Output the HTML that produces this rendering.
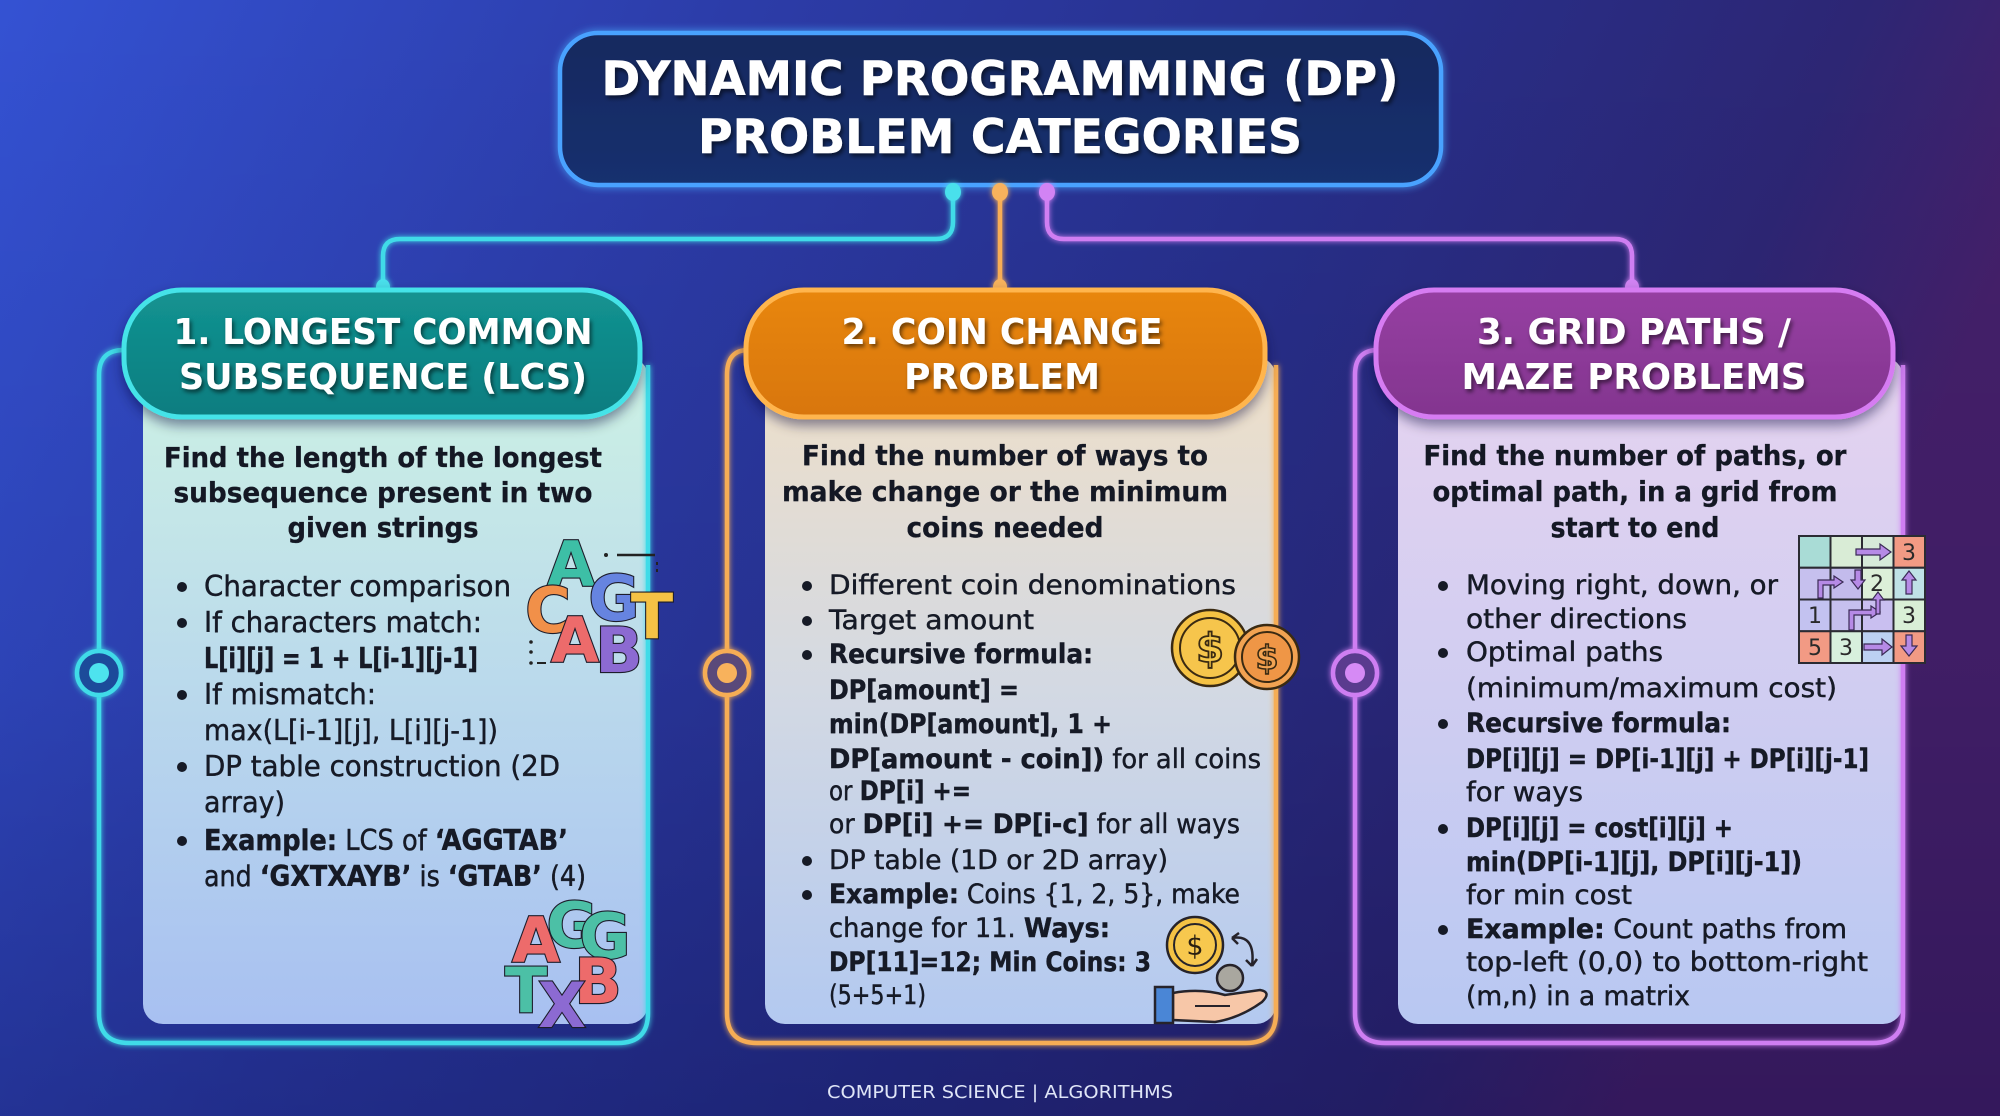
<!DOCTYPE html>
<html>
<head>
<meta charset="utf-8">
<style>
  html,body{margin:0;padding:0;background:#2a3396;}
  svg{display:block;}
  .tt{font-family:"DejaVu Sans","Liberation Sans",sans-serif;font-weight:bold;fill:#ffffff;}
  .hd{font-family:"DejaVu Sans","Liberation Sans",sans-serif;font-weight:bold;font-size:27.5px;fill:#141824;stroke:#141824;stroke-width:0.3;}
  .bl{font-family:"DejaVu Sans","Liberation Sans",sans-serif;font-size:28.5px;fill:#161a26;stroke:#161a26;stroke-width:0.45;}
  .bc{font-family:"DejaVu Sans","Liberation Sans",sans-serif;font-size:26.5px;fill:#161a26;stroke:#161a26;stroke-width:0.45;}
  .bd{font-weight:bold;}
  .lt{font-family:"DejaVu Sans","Liberation Sans",sans-serif;font-weight:bold;stroke:#1d1d2b;stroke-width:2.2;paint-order:stroke;text-anchor:middle;}
  .gn{font-family:"DejaVu Sans","Liberation Sans",sans-serif;font-size:22px;fill:#2a2a2a;text-anchor:middle;}
</style>
</head>
<body>
<svg width="2000" height="1116" viewBox="0 0 2000 1116" xmlns="http://www.w3.org/2000/svg">
  <defs>
    <linearGradient id="bg" x1="0" y1="0" x2="1" y2="0.25">
      <stop offset="0" stop-color="#3452d3"/>
      <stop offset="0.35" stop-color="#2c3ca8"/>
      <stop offset="0.65" stop-color="#272f8a"/>
      <stop offset="0.88" stop-color="#2d2674"/>
      <stop offset="1" stop-color="#45206a"/>
    </linearGradient>
    <linearGradient id="bgv" x1="0" y1="0" x2="0" y2="1">
      <stop offset="0" stop-color="#000030" stop-opacity="0"/>
      <stop offset="0.6" stop-color="#000030" stop-opacity="0.08"/>
      <stop offset="1" stop-color="#000030" stop-opacity="0.25"/>
    </linearGradient>
    <linearGradient id="titleFill" x1="0" y1="0" x2="0" y2="1">
      <stop offset="0" stop-color="#13295f"/>
      <stop offset="1" stop-color="#15306f"/>
    </linearGradient>
    <linearGradient id="cL" x1="0" y1="0" x2="0" y2="1">
      <stop offset="0" stop-color="#cdf2e4"/>
      <stop offset="0.5" stop-color="#bad9ec"/>
      <stop offset="1" stop-color="#a8c0f1"/>
    </linearGradient>
    <linearGradient id="cC" x1="0" y1="0" x2="0" y2="1">
      <stop offset="0" stop-color="#efdfc8"/>
      <stop offset="0.5" stop-color="#d3d9e3"/>
      <stop offset="1" stop-color="#b3c9f0"/>
    </linearGradient>
    <linearGradient id="cG" x1="0" y1="0" x2="0" y2="1">
      <stop offset="0" stop-color="#e6d3f0"/>
      <stop offset="0.5" stop-color="#d0cdf1"/>
      <stop offset="1" stop-color="#b8c8f2"/>
    </linearGradient>
    <linearGradient id="pL" x1="0" y1="0" x2="0" y2="1">
      <stop offset="0" stop-color="#139391"/>
      <stop offset="1" stop-color="#0b7d80"/>
    </linearGradient>
    <linearGradient id="pC" x1="0" y1="0" x2="0" y2="1">
      <stop offset="0" stop-color="#e8860f"/>
      <stop offset="1" stop-color="#d8760c"/>
    </linearGradient>
    <linearGradient id="pG" x1="0" y1="0" x2="0" y2="1">
      <stop offset="0" stop-color="#963fa2"/>
      <stop offset="1" stop-color="#83358f"/>
    </linearGradient>
    <filter id="glow" x="-10%" y="-10%" width="120%" height="120%">
      <feGaussianBlur stdDeviation="4" result="b"/>
      <feMerge><feMergeNode in="b"/><feMergeNode in="SourceGraphic"/></feMerge>
    </filter>
    <filter id="glowS" x="-50%" y="-50%" width="200%" height="200%">
      <feGaussianBlur stdDeviation="3" result="b"/>
      <feMerge><feMergeNode in="b"/><feMergeNode in="SourceGraphic"/></feMerge>
    </filter>
    <filter id="ts" x="-10%" y="-30%" width="120%" height="160%">
      <feDropShadow dx="2" dy="3" stdDeviation="2" flood-color="#000" flood-opacity="0.55"/>
    </filter>
    <filter id="ps" x="-10%" y="-20%" width="120%" height="150%">
      <feDropShadow dx="0" dy="6" stdDeviation="6" flood-color="#0a1030" flood-opacity="0.45"/>
    </filter>
  </defs>

  <!-- background -->
  <rect width="2000" height="1116" fill="url(#bg)"/>
  <rect width="2000" height="1116" fill="url(#bgv)"/>

  <!-- connectors -->
  <g fill="none" stroke-width="4.5" stroke-linecap="round" filter="url(#glowS)">
    <path d="M953 192 V222 Q953 239 936 239 H400 Q383 239 383 256 V287" stroke="#3fdbe8"/>
    <path d="M1000 192 V287" stroke="#f6ad55"/>
    <path d="M1047 192 V222 Q1047 239 1064 239 H1615 Q1632 239 1632 256 V287" stroke="#cf7ef2"/>
  </g>

  <!-- title box -->
  <rect x="560" y="33" width="881" height="152" rx="38" fill="url(#titleFill)" stroke="#4aa2ff" stroke-width="4.5" filter="url(#glow)"/>
  <g filter="url(#ts)">
    <text class="tt" x="1000" y="95" font-size="47" text-anchor="middle" textLength="797" lengthAdjust="spacingAndGlyphs" stroke="#fff" stroke-width="0.6">DYNAMIC PROGRAMMING (DP)</text>
    <text class="tt" x="1000" y="153" font-size="47" text-anchor="middle" textLength="604" lengthAdjust="spacingAndGlyphs" stroke="#fff" stroke-width="0.6">PROBLEM CATEGORIES</text>
  </g>

  <!-- connector dots -->
  <g filter="url(#glowS)">
    <ellipse cx="953" cy="192" rx="8" ry="9" fill="#48e0ec"/>
    <ellipse cx="1000" cy="192" rx="8" ry="9" fill="#f8b25c"/>
    <ellipse cx="1047" cy="192" rx="8" ry="9" fill="#d283f4"/>
    <ellipse cx="383" cy="287" rx="7" ry="8" fill="#48e0ec"/>
    <ellipse cx="1000" cy="287" rx="7" ry="8" fill="#f8b25c"/>
    <ellipse cx="1632" cy="287" rx="7" ry="8" fill="#d283f4"/>
  </g>

  <!-- ============ CARD 1: LCS ============ -->
  <rect x="143" y="357" width="505" height="667" rx="20" fill="url(#cL)"/>
  <path d="M124 350 Q99 350 99 375 V1013 Q99 1043 129 1043 H618 Q648 1043 648 1013 V365" fill="none" stroke="#3fdbe8" stroke-width="4.5" filter="url(#glowS)"/>
  <g filter="url(#glowS)">
    <circle cx="99" cy="673" r="22" fill="#1d4c9a" stroke="#3fdbe8" stroke-width="4.5"/>
    <circle cx="99" cy="673" r="10" fill="#4ee3ee"/>
  </g>
  <rect x="124" y="290" width="516" height="127" rx="58" fill="url(#pL)" stroke="#45e3e8" stroke-width="5" filter="url(#ps)"/>
  <g filter="url(#ts)">
    <text class="tt" x="383" y="344" font-size="36" text-anchor="middle" textLength="419" lengthAdjust="spacingAndGlyphs">1. LONGEST COMMON</text>
    <text class="tt" x="383" y="389" font-size="36" text-anchor="middle" textLength="408" lengthAdjust="spacingAndGlyphs">SUBSEQUENCE (LCS)</text>
  </g>
  <text class="hd" x="383" y="467" text-anchor="middle" textLength="438" lengthAdjust="spacingAndGlyphs">Find the length of the longest</text>
  <text class="hd" x="383" y="502" text-anchor="middle" textLength="419" lengthAdjust="spacingAndGlyphs">subsequence present in two</text>
  <text class="hd" x="383" y="537" text-anchor="middle" textLength="191" lengthAdjust="spacingAndGlyphs">given strings</text>

  <g fill="#161a26">
    <circle cx="182" cy="587" r="5"/>
    <circle cx="182" cy="623" r="5"/>
    <circle cx="182" cy="695" r="5"/>
    <circle cx="182" cy="767" r="5"/>
    <circle cx="182" cy="841" r="5"/>
  </g>
  <text class="bl" x="204" y="596" textLength="307" lengthAdjust="spacingAndGlyphs">Character comparison</text>
  <text class="bl" x="204" y="632" textLength="278" lengthAdjust="spacingAndGlyphs">If characters match:</text>
  <text class="bl bd" x="204" y="668" textLength="274" lengthAdjust="spacingAndGlyphs">L[i][j] = 1 + L[i-1][j-1]</text>
  <text class="bl" x="204" y="704" textLength="172" lengthAdjust="spacingAndGlyphs">If mismatch:</text>
  <text class="bl" x="204" y="740" textLength="294" lengthAdjust="spacingAndGlyphs">max(L[i-1][j], L[i][j-1])</text>
  <text class="bl" x="204" y="776" textLength="356" lengthAdjust="spacingAndGlyphs">DP table construction (2D</text>
  <text class="bl" x="204" y="812" textLength="81" lengthAdjust="spacingAndGlyphs">array)</text>
  <text class="bl" x="204" y="850" textLength="364" lengthAdjust="spacingAndGlyphs"><tspan font-weight="bold">Example:</tspan> LCS of <tspan font-weight="bold">‘AGGTAB’</tspan></text>
  <text class="bl" x="204" y="886" textLength="382" lengthAdjust="spacingAndGlyphs">and <tspan font-weight="bold">‘GXTXAYB’</tspan> is <tspan font-weight="bold">‘GTAB’</tspan> (4)</text>

  <!-- LCS top icon -->
  <g font-size="62">
    <circle cx="606" cy="555" r="2" fill="#222"/>
    <line x1="617" y1="555" x2="655" y2="555" stroke="#222" stroke-width="2.5"/>
    <line x1="657" y1="562" x2="657" y2="576" stroke="#222" stroke-width="2" stroke-dasharray="3 4"/>
    <circle cx="531" cy="642" r="1.8" fill="#222"/>
    <circle cx="531" cy="652" r="1.8" fill="#222"/>
    <circle cx="531" cy="663" r="1.8" fill="#222"/>
    <line x1="537" y1="663" x2="546" y2="663" stroke="#222" stroke-width="2"/>
    <text class="lt" x="571" y="586" fill="#3dbfa6">A</text>
    <text class="lt" x="548" y="632" fill="#f19049">C</text>
    <text class="lt" x="614" y="620" fill="#6684e0">G</text>
    <text class="lt" x="652" y="638" fill="#f5c245">T</text>
    <text class="lt" x="575" y="662" fill="#ed6b6b">A</text>
    <text class="lt" x="619" y="672" fill="#8c6ad2">B</text>
  </g>
  <!-- LCS bottom icon -->
  <g font-size="62">
    <text class="lt" x="572" y="947" fill="#4cc0a6">G</text>
    <text class="lt" x="605" y="958" fill="#4cc0a6">G</text>
    <text class="lt" x="536" y="962" fill="#ed6b6b">A</text>
    <text class="lt" x="598" y="1003" fill="#ed6b6b">B</text>
    <text class="lt" x="526" y="1012" fill="#4cc0a6">T</text>
    <text class="lt" x="562" y="1027" fill="#8c6ad2">X</text>
  </g>

  <!-- ============ CARD 2: COIN ============ -->
  <rect x="765" y="357" width="511" height="667" rx="20" fill="url(#cC)"/>
  <path d="M748 350 Q727 350 727 375 V1013 Q727 1043 757 1043 H1246 Q1276 1043 1276 1013 V365" fill="none" stroke="#f6ad55" stroke-width="4.5" filter="url(#glowS)"/>
  <g filter="url(#glowS)">
    <circle cx="727" cy="673" r="22" fill="#5a4a7a" stroke="#f6ad55" stroke-width="4.5"/>
    <circle cx="727" cy="673" r="10" fill="#f8b25c"/>
  </g>
  <rect x="746" y="290" width="519" height="127" rx="58" fill="url(#pC)" stroke="#ffb54e" stroke-width="5" filter="url(#ps)"/>
  <g filter="url(#ts)">
    <text class="tt" x="1002" y="344" font-size="36" text-anchor="middle" textLength="321" lengthAdjust="spacingAndGlyphs">2. COIN CHANGE</text>
    <text class="tt" x="1002" y="389" font-size="36" text-anchor="middle" textLength="196" lengthAdjust="spacingAndGlyphs">PROBLEM</text>
  </g>
  <text class="hd" x="1005" y="465" text-anchor="middle" textLength="406" lengthAdjust="spacingAndGlyphs">Find the number of ways to</text>
  <text class="hd" x="1005" y="501" text-anchor="middle" textLength="446" lengthAdjust="spacingAndGlyphs">make change or the minimum</text>
  <text class="hd" x="1005" y="537" text-anchor="middle" textLength="197" lengthAdjust="spacingAndGlyphs">coins needed</text>

  <g fill="#161a26">
    <circle cx="807" cy="586" r="5"/>
    <circle cx="807" cy="621" r="5"/>
    <circle cx="807" cy="655" r="5"/>
    <circle cx="807" cy="861" r="5"/>
    <circle cx="807" cy="895" r="5"/>
  </g>
  <text class="bc" x="829" y="594" textLength="407" lengthAdjust="spacingAndGlyphs">Different coin denominations</text>
  <text class="bc" x="829" y="629" textLength="205" lengthAdjust="spacingAndGlyphs">Target amount</text>
  <text class="bc bd" x="829" y="663" textLength="264" lengthAdjust="spacingAndGlyphs">Recursive formula:</text>
  <text class="bc bd" x="829" y="699" textLength="190" lengthAdjust="spacingAndGlyphs">DP[amount] =</text>
  <text class="bc bd" x="829" y="733" textLength="283" lengthAdjust="spacingAndGlyphs">min(DP[amount], 1 +</text>
  <text class="bc" x="829" y="768" textLength="432" lengthAdjust="spacingAndGlyphs"><tspan font-weight="bold">DP[amount - coin])</tspan> for all coins</text>
  <text class="bc" x="829" y="800" textLength="142" lengthAdjust="spacingAndGlyphs">or <tspan font-weight="bold">DP[i] +=</tspan></text>
  <text class="bc" x="829" y="833" textLength="411" lengthAdjust="spacingAndGlyphs">or <tspan font-weight="bold">DP[i] += DP[i-c]</tspan> for all ways</text>
  <text class="bc" x="829" y="869" textLength="339" lengthAdjust="spacingAndGlyphs">DP table (1D or 2D array)</text>
  <text class="bc" x="829" y="903" textLength="411" lengthAdjust="spacingAndGlyphs"><tspan font-weight="bold">Example:</tspan> Coins {1, 2, 5}, make</text>
  <text class="bc" x="829" y="937" textLength="281" lengthAdjust="spacingAndGlyphs">change for 11. <tspan font-weight="bold">Ways:</tspan></text>
  <text class="bc bd" x="829" y="971" textLength="322" lengthAdjust="spacingAndGlyphs">DP[11]=12; Min Coins: 3</text>
  <text class="bc" x="829" y="1004" textLength="97" lengthAdjust="spacingAndGlyphs">(5+5+1)</text>

  <!-- coins icon -->
  <g stroke="#3a2a12" stroke-width="2.5">
    <circle cx="1210" cy="648" r="38" fill="#f5c244"/>
    <circle cx="1210" cy="648" r="30" fill="#f6c54c" stroke-width="2"/>
    <circle cx="1267" cy="657" r="32" fill="#f2a352"/>
    <circle cx="1267" cy="657" r="25" fill="#ef9646" stroke-width="2"/>
  </g>
  <text x="1210" y="662" font-family="DejaVu Sans, sans-serif" font-size="40" font-weight="bold" text-anchor="middle" fill="#f6c84a" stroke="#3a2a12" stroke-width="1.8">$</text>
  <text x="1267" y="669" font-family="DejaVu Sans, sans-serif" font-size="33" font-weight="bold" text-anchor="middle" fill="#f2a352" stroke="#3a2a12" stroke-width="1.6">$</text>

  <!-- hand + coin icon -->
  <g stroke="#26232a" stroke-width="2.5">
    <circle cx="1195" cy="945" r="28" fill="#f5c244"/>
    <circle cx="1195" cy="945" r="21" fill="#f7c84e" stroke-width="2"/>
    <circle cx="1230" cy="978" r="13" fill="#a9a79f"/>
    <path d="M1232 938 Q1256 934 1252 966" fill="none"/>
    <path d="M1232 938 L1239 933 M1232 938 L1238 944" fill="none"/>
    <path d="M1252 966 L1246 960 M1252 966 L1257 959" fill="none"/>
    <path d="M1173 993 Q1200 988 1225 995 L1260 990 Q1272 992 1262 1002 Q1240 1018 1215 1022 L1173 1020 Z" fill="#f7c7a8"/>
    <path d="M1195 1006 L1230 1006" fill="none" stroke-width="2"/>
    <rect x="1155" y="987" width="18" height="36" fill="#4a86d6"/>
  </g>
  <text x="1195" y="955" font-family="DejaVu Sans, sans-serif" font-size="27" text-anchor="middle" fill="#2a2012">$</text>

  <!-- ============ CARD 3: GRID ============ -->
  <rect x="1398" y="357" width="505" height="667" rx="20" fill="url(#cG)"/>
  <path d="M1378 350 Q1355 350 1355 375 V1013 Q1355 1043 1385 1043 H1873 Q1903 1043 1903 1013 V365" fill="none" stroke="#cf7ef2" stroke-width="4.5" filter="url(#glowS)"/>
  <g filter="url(#glowS)">
    <circle cx="1355" cy="673" r="22" fill="#5a3a8e" stroke="#cf7ef2" stroke-width="4.5"/>
    <circle cx="1355" cy="673" r="10" fill="#d68af5"/>
  </g>
  <rect x="1376" y="290" width="517" height="127" rx="58" fill="url(#pG)" stroke="#d67bf2" stroke-width="5" filter="url(#ps)"/>
  <g filter="url(#ts)">
    <text class="tt" x="1634" y="344" font-size="36" text-anchor="middle" textLength="314" lengthAdjust="spacingAndGlyphs">3. GRID PATHS /</text>
    <text class="tt" x="1634" y="389" font-size="36" text-anchor="middle" textLength="345" lengthAdjust="spacingAndGlyphs">MAZE PROBLEMS</text>
  </g>
  <text class="hd" x="1635" y="465" text-anchor="middle" textLength="423" lengthAdjust="spacingAndGlyphs">Find the number of paths, or</text>
  <text class="hd" x="1635" y="501" text-anchor="middle" textLength="405" lengthAdjust="spacingAndGlyphs">optimal path, in a grid from</text>
  <text class="hd" x="1635" y="537" text-anchor="middle" textLength="169" lengthAdjust="spacingAndGlyphs">start to end</text>

  <g fill="#161a26">
    <circle cx="1443" cy="586" r="5"/>
    <circle cx="1443" cy="653" r="5"/>
    <circle cx="1443" cy="724" r="5"/>
    <circle cx="1443" cy="829" r="5"/>
    <circle cx="1443" cy="930" r="5"/>
  </g>
  <text class="bc" x="1466" y="594" textLength="312" lengthAdjust="spacingAndGlyphs">Moving right, down, or</text>
  <text class="bc" x="1466" y="628" textLength="221" lengthAdjust="spacingAndGlyphs">other directions</text>
  <text class="bc" x="1466" y="661" textLength="197" lengthAdjust="spacingAndGlyphs">Optimal paths</text>
  <text class="bc" x="1466" y="697" textLength="371" lengthAdjust="spacingAndGlyphs">(minimum/maximum cost)</text>
  <text class="bc bd" x="1466" y="732" textLength="265" lengthAdjust="spacingAndGlyphs">Recursive formula:</text>
  <text class="bc bd" x="1466" y="768" textLength="403" lengthAdjust="spacingAndGlyphs">DP[i][j] = DP[i-1][j] + DP[i][j-1]</text>
  <text class="bc" x="1466" y="801" textLength="117" lengthAdjust="spacingAndGlyphs">for ways</text>
  <text class="bc bd" x="1466" y="837" textLength="267" lengthAdjust="spacingAndGlyphs">DP[i][j] = cost[i][j] +</text>
  <text class="bc bd" x="1466" y="871" textLength="336" lengthAdjust="spacingAndGlyphs">min(DP[i-1][j], DP[i][j-1])</text>
  <text class="bc" x="1466" y="904" textLength="166" lengthAdjust="spacingAndGlyphs">for min cost</text>
  <text class="bc" x="1466" y="938" textLength="381" lengthAdjust="spacingAndGlyphs"><tspan font-weight="bold">Example:</tspan> Count paths from</text>
  <text class="bc" x="1466" y="971" textLength="402" lengthAdjust="spacingAndGlyphs">top-left (0,0) to bottom-right</text>
  <text class="bc" x="1466" y="1005" textLength="224" lengthAdjust="spacingAndGlyphs">(m,n) in a matrix</text>

  <!-- grid icon -->
  <g stroke="#2b2b33" stroke-width="2">
    <rect x="1799" y="536" width="31.5" height="31.75" fill="#a9dcd6"/>
    <rect x="1830.5" y="536" width="31.5" height="31.75" fill="#d9ecd6"/>
    <rect x="1862" y="536" width="31.5" height="31.75" fill="#d6ead9"/>
    <rect x="1893.5" y="536" width="31.5" height="31.75" fill="#f29a84"/>
    <rect x="1799" y="567.75" width="31.5" height="31.75" fill="#c6c0ee"/>
    <rect x="1830.5" y="567.75" width="31.5" height="31.75" fill="#c3bbec"/>
    <rect x="1862" y="567.75" width="31.5" height="31.75" fill="#dcefd8"/>
    <rect x="1893.5" y="567.75" width="31.5" height="31.75" fill="#bfe1e6"/>
    <rect x="1799" y="599.5" width="31.5" height="31.75" fill="#c3c2f0"/>
    <rect x="1830.5" y="599.5" width="31.5" height="31.75" fill="#c6c0ee"/>
    <rect x="1862" y="599.5" width="31.5" height="31.75" fill="#c9bff0"/>
    <rect x="1893.5" y="599.5" width="31.5" height="31.75" fill="#d9efd6"/>
    <rect x="1799" y="631.25" width="31.5" height="31.75" fill="#f29a84"/>
    <rect x="1830.5" y="631.25" width="31.5" height="31.75" fill="#d7f0dd"/>
    <rect x="1862" y="631.25" width="31.5" height="31.75" fill="#bcd1f2"/>
    <rect x="1893.5" y="631.25" width="31.5" height="31.75" fill="#f29a84"/>
  </g>
  <text class="gn" x="1909" y="560">3</text>
  <text class="gn" x="1877" y="591">2</text>
  <text class="gn" x="1815" y="623">1</text>
  <text class="gn" x="1909" y="623">3</text>
  <text class="gn" x="1815" y="655">5</text>
  <text class="gn" x="1846" y="655">3</text>
  <g fill="#b68ae6" stroke="#3a2a55" stroke-width="1.2">
    <path d="M1856 549 H1880 V544 L1891 552 L1880 560 V555 H1856 Z"/>
    <path d="M1855 570 V580 H1851 L1858 589 L1865 580 H1861 V570 Z"/>
    <path d="M1818 598 V580 H1834 V576 L1843 582 L1834 588 V585 H1823 V598 Z"/>
    <path d="M1849 630 V610 H1871 V606 L1880 612 L1871 618 V615 H1854 V630 Z"/>
    <path d="M1876 614 V600 H1872 L1878 592 L1884 600 H1880 V614 Z"/>
    <path d="M1906 594 V580 H1902 L1909 571 L1916 580 H1912 V594 Z"/>
    <path d="M1864 644 H1882 V639 L1892 647 L1882 655 V650 H1864 Z"/>
    <path d="M1906 635 V646 H1901 L1909 656 L1917 646 H1912 V635 Z"/>
  </g>

  <!-- footer -->
  <text x="1000" y="1098" font-family="DejaVu Sans, Liberation Sans, sans-serif" font-size="18" fill="#dfe5f7" text-anchor="middle" textLength="346" lengthAdjust="spacingAndGlyphs">COMPUTER SCIENCE | ALGORITHMS</text>
</svg>
</body>
</html>
